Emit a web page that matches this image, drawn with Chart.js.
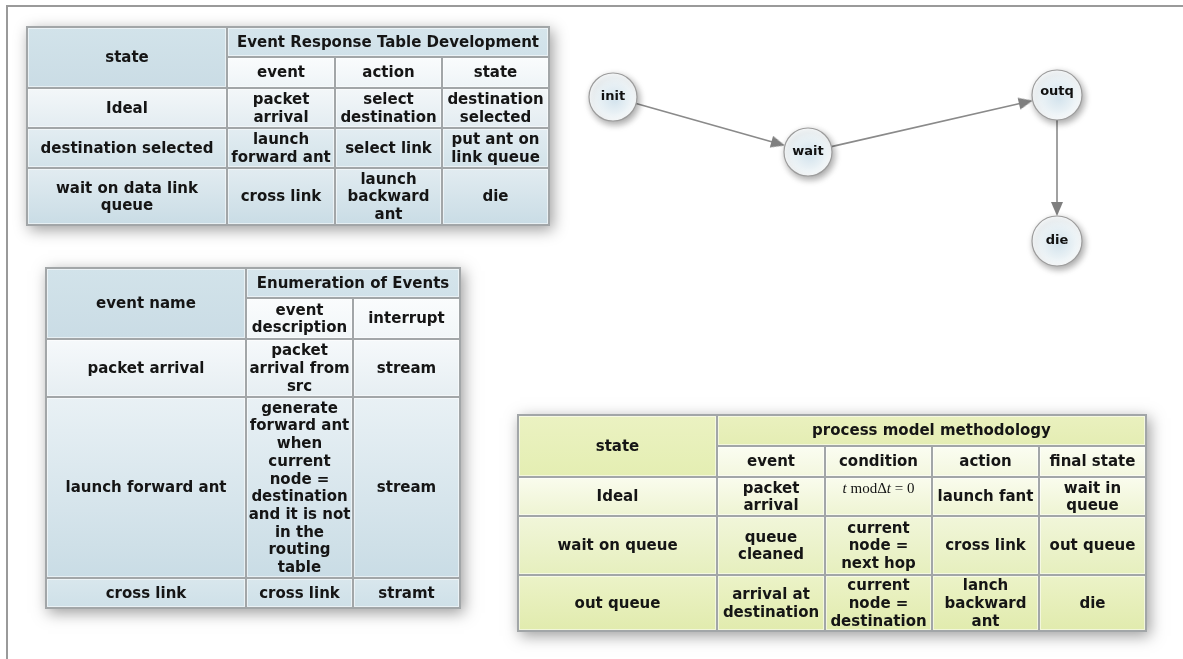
<!DOCTYPE html>
<html>
<head>
<meta charset="utf-8">
<script src="https://cdn.jsdelivr.net/npm/chart.js@4/dist/chart.umd.min.js"></script>
<style>
html,body{margin:0;padding:0;background:#fff;}
#c{display:block;}
</style>
</head>
<body>
<canvas id="c" width="1183" height="659"></canvas>
<script>
// ---------------- DATA ----------------
// State graph
const nodeNames = ['init', 'wait', 'outq', 'die'];
const nodeX = [613, 808, 1057, 1057];
const nodeY = [97, 152, 95, 241];
const edgeFrom = ['init', 'wait', 'outq'];
const edgeTo = ['wait', 'outq', 'die'];

// Table 1
const t1Corner = 'state';
const t1Title = 'Event Response Table Development';
const t1Columns = ['event', 'action', 'state'];
const t1Rows = ['Ideal', 'destination selected', 'wait on data link\nqueue'];
const t1Cells = [
  ['packet\narrival', 'select\ndestination', 'destination\nselected'],
  ['launch\nforward ant', 'select link', 'put ant on\nlink queue'],
  ['cross link', 'launch\nbackward\nant', 'die']
];

// Table 2
const t2Corner = 'event name';
const t2Title = 'Enumeration of Events';
const t2Columns = ['event\ndescription', 'interrupt'];
const t2Rows = ['packet arrival', 'launch forward ant', 'cross link'];
const t2Cells = [
  ['packet\narrival from\nsrc', 'stream'],
  ['generate\nforward ant\nwhen\ncurrent\nnode =\ndestination\nand it is not\nin the\nrouting\ntable', 'stream'],
  ['cross link', 'stramt']
];

// Table 3
const t3Corner = 'state';
const t3Title = 'process model methodology';
const t3Columns = ['event', 'condition', 'action', 'final state'];
const t3Rows = ['Ideal', 'wait on queue', 'out queue'];
const t3Cells = [
  ['packet\narrival', '$t mod Δt = 0', 'launch fant', 'wait in\nqueue'],
  ['queue\ncleaned', 'current\nnode =\nnext hop', 'cross link', 'out queue'],
  ['arrival at\ndestination', 'current\nnode =\ndestination', 'lanch\nbackward\nant', 'die']
];

// ---------------- LAYOUT / STYLE ----------------
const W = 1183, H = 659;
const nodeRadius = {init: 24, wait: 24, outq: 25, die: 25};
const ARROW_LEN = 14;

const blue = {
  corner: ['#d2e3ea', '#cadce5'],
  title: ['#d6e5ec', '#d0e1e9'],
  sub: ['#fafcfd', '#eef4f7'],
  rows: [['#f3f7f9', '#e3ecf1'], ['#e3edf2', '#d2e2e9'], ['#e2ecf1', '#c9dce5']]
};
const blue2 = {
  corner: ['#d2e3ea', '#cadce5'],
  title: ['#d6e5ec', '#d0e1e9'],
  sub: ['#fafcfd', '#f1f6f8'],
  rows: [['#f6f9fb', '#e6eef2'], ['#e9f1f5', '#c9dce5'], ['#d9e7ed', '#cee0e8']]
};
const green = {
  corner: ['#ebf2c2', '#e4eeb2'],
  title: ['#eaf1bf', '#e4edb3'],
  sub: ['#fbfdf2', '#f3f7de'],
  rows: [['#fafcee', '#eef4d2'], ['#f1f6da', '#e6efbd'], ['#ecf3c8', '#e1ebad']]
};

const tables = [
  {corner: t1Corner, title: t1Title, cols: t1Columns, rows: t1Rows, cells: t1Cells,
   xs: [27, 227, 335, 442, 549], ys: [27, 57, 88, 128, 168, 225], pal: blue},
  {corner: t2Corner, title: t2Title, cols: t2Columns, rows: t2Rows, cells: t2Cells,
   xs: [46, 246, 353, 460], ys: [268, 298, 339, 397, 578, 608], pal: blue2},
  {corner: t3Corner, title: t3Title, cols: t3Columns, rows: t3Rows, cells: t3Cells,
   xs: [518, 717, 825, 932, 1039, 1146], ys: [415, 446, 477, 516, 575, 631], pal: green}
];

const FONT = 'bold 15px "DejaVu Sans", Verdana, sans-serif';
const LINE_H = 17.7;
const MATH_FONT = '15px "Liberation Serif", serif';

// ---------------- BUILD DATASETS ----------------
function idx(n) { return nodeNames.indexOf(n); }

const edgeDatasets = [];
const arrowPts = [];
const arrowRot = [];
for (let i = 0; i < edgeFrom.length; i++) {
  const a = idx(edgeFrom[i]), b = idx(edgeTo[i]);
  const dx = nodeX[b] - nodeX[a], dy = nodeY[b] - nodeY[a];
  const L = Math.hypot(dx, dy), ux = dx / L, uy = dy / L;
  const rs = nodeRadius[edgeFrom[i]], rt = nodeRadius[edgeTo[i]];
  const sx = nodeX[a] + ux * rs, sy = nodeY[a] + uy * rs;
  const tx = nodeX[b] - ux * rt, ty = nodeY[b] - uy * rt;
  edgeDatasets.push({
    type: 'scatter',
    data: [{x: sx, y: sy}, {x: tx - ux * (ARROW_LEN - 2), y: ty - uy * (ARROW_LEN - 2)}],
    showLine: true, borderColor: '#8a8a8a', borderWidth: 1.6, pointRadius: 0, order: 3
  });
  arrowPts.push({x: tx - ux * ARROW_LEN / 2, y: ty - uy * ARROW_LEN / 2});
  arrowRot.push(Math.atan2(ux, -uy) * 180 / Math.PI);
}

const arrowImg = document.createElement('canvas');
arrowImg.width = 12; arrowImg.height = ARROW_LEN;
(function () {
  const g = arrowImg.getContext('2d');
  g.fillStyle = '#7f7f7f';
  g.beginPath(); g.moveTo(6, 0); g.lineTo(12, ARROW_LEN); g.lineTo(0, ARROW_LEN); g.closePath(); g.fill();
})();

const nodeData = nodeNames.map((n, i) => ({x: nodeX[i], y: nodeY[i]}));

// ---------------- PLUGINS ----------------
function cellFill(ctx, x0, y0, x1, y1, cols) {
  const g = ctx.createLinearGradient(0, y0, 0, y1);
  g.addColorStop(0, cols[0]); g.addColorStop(1, cols[1]);
  ctx.fillStyle = g;
  ctx.fillRect(x0 + 1, y0 + 1, x1 - x0 - 2, y1 - y0 - 2);
  ctx.strokeStyle = 'rgba(255,255,255,0.55)';
  ctx.lineWidth = 1;
  ctx.strokeRect(x0 + 1.5, y0 + 1.5, x1 - x0 - 3, y1 - y0 - 3);
}

function cellText(ctx, text, cx, cy) {
  ctx.fillStyle = '#151515';
  ctx.textAlign = 'center';
  ctx.textBaseline = 'middle';
  if (text.startsWith('$')) {
    const parts = [['t', 'italic'], [' mod', ''], ['Δ', ''], ['t', 'italic'], [' = 0', '']];
    let total = 0;
    parts.forEach(p => { ctx.font = (p[1] ? 'italic ' : '') + MATH_FONT; total += ctx.measureText(p[0]).width; });
    let x = cx - total / 2;
    ctx.textAlign = 'left';
    parts.forEach(p => {
      ctx.font = (p[1] ? 'italic ' : '') + MATH_FONT;
      ctx.fillText(p[0], x, cy - 7);
      x += ctx.measureText(p[0]).width;
    });
    return;
  }
  ctx.font = FONT;
  const lines = text.split('\n');
  const y0 = cy - (lines.length - 1) * LINE_H / 2;
  lines.forEach((l, i) => ctx.fillText(l, cx, y0 + i * LINE_H + 1));
}

const tablePlugin = {
  id: 'tables',
  beforeDatasetsDraw(chart) {
    const ctx = chart.ctx, sx = chart.scales.x, sy = chart.scales.y;
    const px = v => sx.getPixelForValue(v), py = v => sy.getPixelForValue(v);
    ctx.save();
    ctx.strokeStyle = '#9a9a9a';
    ctx.lineWidth = 2;
    ctx.beginPath();
    ctx.moveTo(px(7), py(H)); ctx.lineTo(px(7), py(6)); ctx.lineTo(px(W), py(6));
    ctx.stroke();

    tables.forEach(t => {
      const xs = t.xs.map(px), ys = t.ys.map(py);
      const X0 = xs[0], X1 = xs[xs.length - 1], Y0 = ys[0], Y1 = ys[ys.length - 1];
      ctx.save();
      ctx.shadowColor = 'rgba(0,0,0,0.38)';
      ctx.shadowBlur = 14;
      ctx.shadowOffsetX = 3;
      ctx.shadowOffsetY = 4;
      ctx.fillStyle = '#a2a6a8';
      ctx.fillRect(X0 - 1, Y0 - 1, X1 - X0 + 2, Y1 - Y0 + 2);
      ctx.restore();
      const nc = t.cols.length;
      cellFill(ctx, xs[0], ys[0], xs[1], ys[2], t.pal.corner);
      cellText(ctx, t.corner, (xs[0] + xs[1]) / 2, (ys[0] + ys[2]) / 2);
      cellFill(ctx, xs[1], ys[0], xs[nc + 1], ys[1], t.pal.title);
      cellText(ctx, t.title, (xs[1] + xs[nc + 1]) / 2, (ys[0] + ys[1]) / 2);
      t.cols.forEach((c, j) => {
        cellFill(ctx, xs[j + 1], ys[1], xs[j + 2], ys[2], t.pal.sub);
        cellText(ctx, c, (xs[j + 1] + xs[j + 2]) / 2, (ys[1] + ys[2]) / 2);
      });
      t.rows.forEach((r, i) => {
        const ya = ys[i + 2], yb = ys[i + 3];
        const pal = t.pal.rows[i];
        cellFill(ctx, xs[0], ya, xs[1], yb, pal);
        cellText(ctx, r, (xs[0] + xs[1]) / 2, (ya + yb) / 2);
        t.cells[i].forEach((c, j) => {
          cellFill(ctx, xs[j + 1], ya, xs[j + 2], yb, pal);
          cellText(ctx, c, (xs[j + 1] + xs[j + 2]) / 2, (ya + yb) / 2);
        });
      });
    });
    ctx.restore();
  },
  beforeDatasetDraw(chart, args) {
    if (chart.data.datasets[args.index].isNodes) {
      const ctx = chart.ctx;
      ctx.save();
      ctx.shadowColor = 'rgba(0,0,0,0.35)';
      ctx.shadowBlur = 7;
      ctx.shadowOffsetX = 2;
      ctx.shadowOffsetY = 3;
    }
  },
  afterDatasetDraw(chart, args) {
    if (chart.data.datasets[args.index].isNodes) chart.ctx.restore();
  },
  afterDatasetsDraw(chart) {
    const ctx = chart.ctx, sx = chart.scales.x, sy = chart.scales.y;
    ctx.save();
    ctx.fillStyle = '#111';
    ctx.font = 'bold 13px "DejaVu Sans", Verdana, sans-serif';
    ctx.textAlign = 'center';
    ctx.textBaseline = 'middle';
    nodeNames.forEach((n, i) => {
      ctx.fillText(n, sx.getPixelForValue(nodeX[i]), sy.getPixelForValue(nodeY[i]) - (n === 'outq' ? 3 : 0));
    });
    ctx.restore();
  }
};

// ---------------- CHART ----------------
function nodeFill(c) {
  const ch = c.chart;
  if (c.type !== 'data' || !ch.scales || !ch.scales.x || !ch.scales.y) return '#e8f0f4';
  const x = ch.scales.x.getPixelForValue(c.raw.x);
  const y = ch.scales.y.getPixelForValue(c.raw.y);
  const r = nodeRadius[nodeNames[c.dataIndex]];
  if (!isFinite(x) || !isFinite(y) || !r) return '#e8f0f4';
  const g = ch.ctx.createRadialGradient(x + 2, y + 3, 2, x, y, r);
  g.addColorStop(0, '#d6e5ee');
  g.addColorStop(0.6, '#e9f1f5');
  g.addColorStop(1, '#fbfdfe');
  return g;
}

new Chart(document.getElementById('c'), {
  type: 'scatter',
  data: {
    datasets: [
      ...edgeDatasets,
      {
        data: arrowPts, pointStyle: arrowImg, pointRotation: arrowRot,
        pointRadius: 7, showLine: false, order: 2
      },
      {
        isNodes: true,
        data: nodeData,
        showLine: false,
        order: 1,
        pointRadius: nodeNames.map(n => nodeRadius[n]),
        pointHoverRadius: nodeNames.map(n => nodeRadius[n]),
        pointBorderColor: '#9c9c9c',
        pointBorderWidth: 1.2,
        pointBackgroundColor: nodeFill
      }
    ]
  },
  options: {
    responsive: false,
    animation: false,
    events: [],
    layout: {padding: 0, autoPadding: false},
    plugins: {legend: {display: false}, tooltip: {enabled: false}},
    scales: {
      x: {type: 'linear', min: 0, max: W, display: false},
      y: {type: 'linear', min: 0, max: H, reverse: true, display: false}
    }
  },
  plugins: [tablePlugin]
});
</script>
</body>
</html>
